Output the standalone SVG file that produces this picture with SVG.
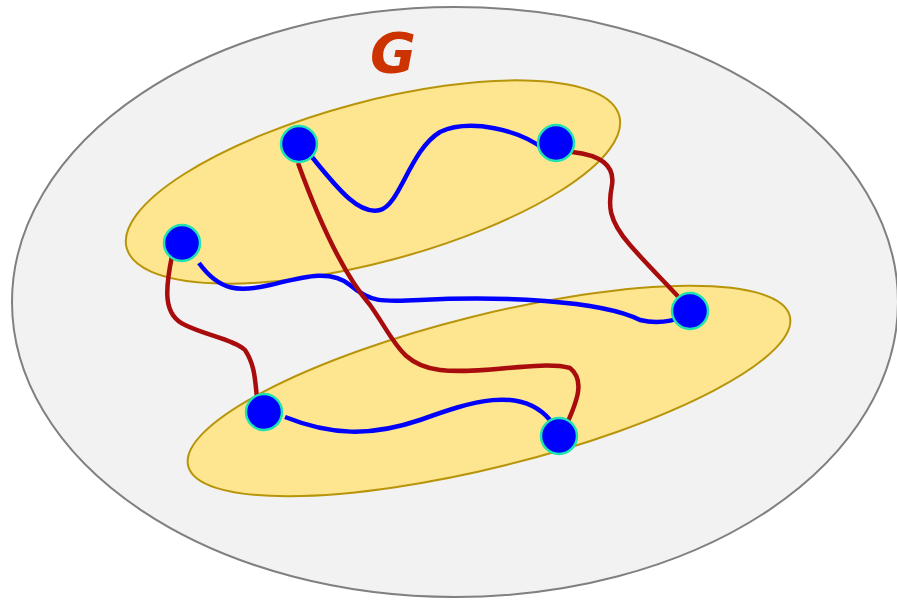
<svg xmlns="http://www.w3.org/2000/svg" width="897" height="600" viewBox="0 0 897 600">
<style>
.grp{fill:#fde68f;stroke:#b8940a;stroke-width:2}
.node{fill:#0000ff;stroke:#1ee3b0;stroke-width:2.5}
.eb{fill:none;stroke:#0000ff;stroke-width:4.5;stroke-linecap:butt}
.er{fill:none;stroke:#a80c0c;stroke-width:4.5;stroke-linecap:butt}
</style>
<rect width="897" height="600" fill="#ffffff"/>
<ellipse id="graph" cx="455" cy="302" rx="443" ry="295" fill="#f2f2f2" stroke="#808080" stroke-width="2"/>
<text x="393" y="72" font-family="'DejaVu Sans', sans-serif" font-size="56" font-style="italic" font-weight="bold" fill="#cc3300" text-anchor="middle">G</text>
<ellipse id="part1" class="grp" cx="373" cy="182" rx="255" ry="80" transform="rotate(-15 373 182)"/>
<ellipse id="part2" class="grp" cx="489" cy="391" rx="310" ry="76" transform="rotate(-14 489 391)"/>
<g id="connectors">
<path class="eb" d="M312,157 C340,192 360,215 380,210 C400,205 410,150 440,132 C470,118 520,130 545,150"/>
<path class="eb" d="M199,263 C220,292 240,292 270,285 C300,278 330,268 350,285 C370,302 380,302 420,300 C500,296 600,300 640,320 C660,325 675,320 684,316"/>
<path class="eb" d="M285,417 C330,435 370,437 420,420 C470,402 520,385 550,420"/>
<path class="er" d="M572,152 C600,155 615,165 612,185 C608,205 608,220 630,245 C650,268 668,285 684,303"/>
<path class="er" d="M298,163 C315,210 340,270 370,305 C395,340 400,365 440,370 C480,375 540,360 570,368 C585,380 578,400 565,428"/>
<path class="er" d="M172,256 C165,290 163,315 185,325 C205,335 235,340 245,350 C255,365 255,380 257,398"/>
</g>
<g id="nodeA"><circle class="node" cx="299" cy="144" r="18"/></g>
<g id="nodeB"><circle class="node" cx="556" cy="143" r="18"/></g>
<g id="nodeC"><circle class="node" cx="182" cy="243" r="18"/></g>
<g id="nodeD"><circle class="node" cx="690" cy="311" r="18"/></g>
<g id="nodeE"><circle class="node" cx="264" cy="412" r="18"/></g>
<g id="nodeF"><circle class="node" cx="559" cy="436" r="18"/></g>
</svg>
